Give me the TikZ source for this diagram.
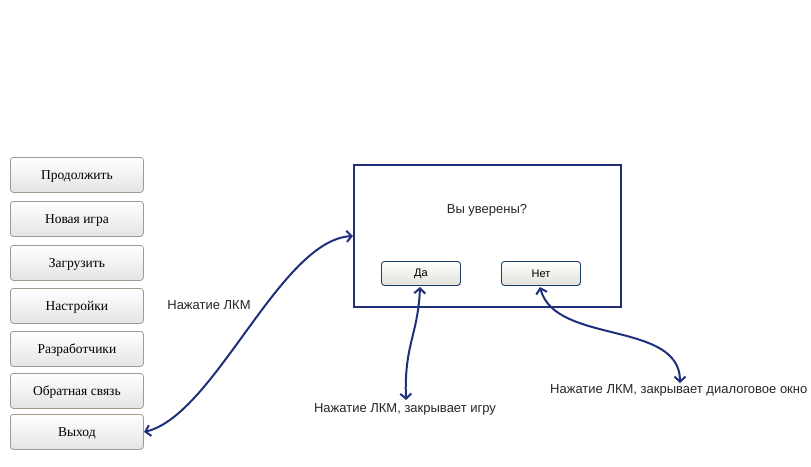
\documentclass[tikz,border=0pt]{standalone}
\usepackage{fontspec}
\setmainfont{Liberation Serif}
\newfontfamily\labelfont{Liberation Sans}
\usetikzlibrary{arrows.meta}
\definecolor{navy}{HTML}{1F2F7A}
\definecolor{btnborder}{HTML}{A39A8E}
\definecolor{btngrey}{HTML}{E4E4E4}
\definecolor{dbborder}{HTML}{1A3D6B}
\definecolor{dbgrey}{HTML}{E2E0D8}
\tikzset{
  menubtn/.style={draw=btnborder, line width=0.8pt, rounded corners=3pt,
    top color=white, bottom color=btngrey, minimum width=133pt, minimum height=35pt,
    inner sep=0pt, font=\fontsize{13.5}{15}\selectfont, anchor=north west,
    text depth=0pt, yshift=0pt},
  dlgbtn/.style={draw=dbborder, line width=0.9pt, rounded corners=3pt,
    top color=white, bottom color=dbgrey, minimum width=79pt, minimum height=24pt,
    inner sep=0pt, font=\labelfont\fontsize{11}{13}\selectfont, anchor=north west},
  lbl/.style={font=\labelfont\fontsize{13}{15}\selectfont, inner sep=0pt, text=black!85},
  conn/.style={draw=navy, line width=2pt, {Straight Barb[length=5pt,width=11pt]}-{Straight Barb[length=5pt,width=11pt]}},
}
\begin{document}
\begin{tikzpicture}[x=1pt,y=-1pt]
\useasboundingbox (0,0) rectangle (811,466);
\node[menubtn] (b1) at (10,157) {Продолжить};
\node[menubtn] (b2) at (10,201) {Новая игра};
\node[menubtn] (b3) at (10,245) {Загрузить};
\node[menubtn] (b4) at (10,288) {Настройки};
\node[menubtn] (b5) at (10,331) {Разработчики};
\node[menubtn] (b6) at (10,373) {Обратная связь};
\node[menubtn] (b7) at (10,414) {Выход};
\node[draw=navy, line width=2pt, minimum width=267pt, minimum height=142pt, anchor=north west, inner sep=0pt] (dlg) at (353,164) {};
\node[lbl] (q) at (487,210) {Вы уверены?};
\node[dlgbtn] (yes) at (381,261) {Да};
\node[dlgbtn] (no) at (501,261) {Нет};
\node[lbl] (l1) at (209,305) {Нажатие ЛКМ};
\node[lbl] (l2) at (405,409) {Нажатие ЛКМ, закрывает игру};
\node[lbl, anchor=west] (l3) at (550,390) {Нажатие ЛКМ, закрывает диалоговое окно};
\coordinate (e1) at (144,432);
\coordinate (e2) at (420,287);
\coordinate (e3) at (406,400);
\coordinate (e4) at (540,287);
\coordinate (e5) at (680,383);
\draw[conn] (e1) .. controls (215,415) and (280,240) .. (dlg.west |- 0,236);
\draw[conn] (e2) .. controls (418,335) and (404,345) .. (e3);
\draw[conn] (e4) .. controls (555,345) and (680,320) .. (e5);
\end{tikzpicture}
\end{document}
